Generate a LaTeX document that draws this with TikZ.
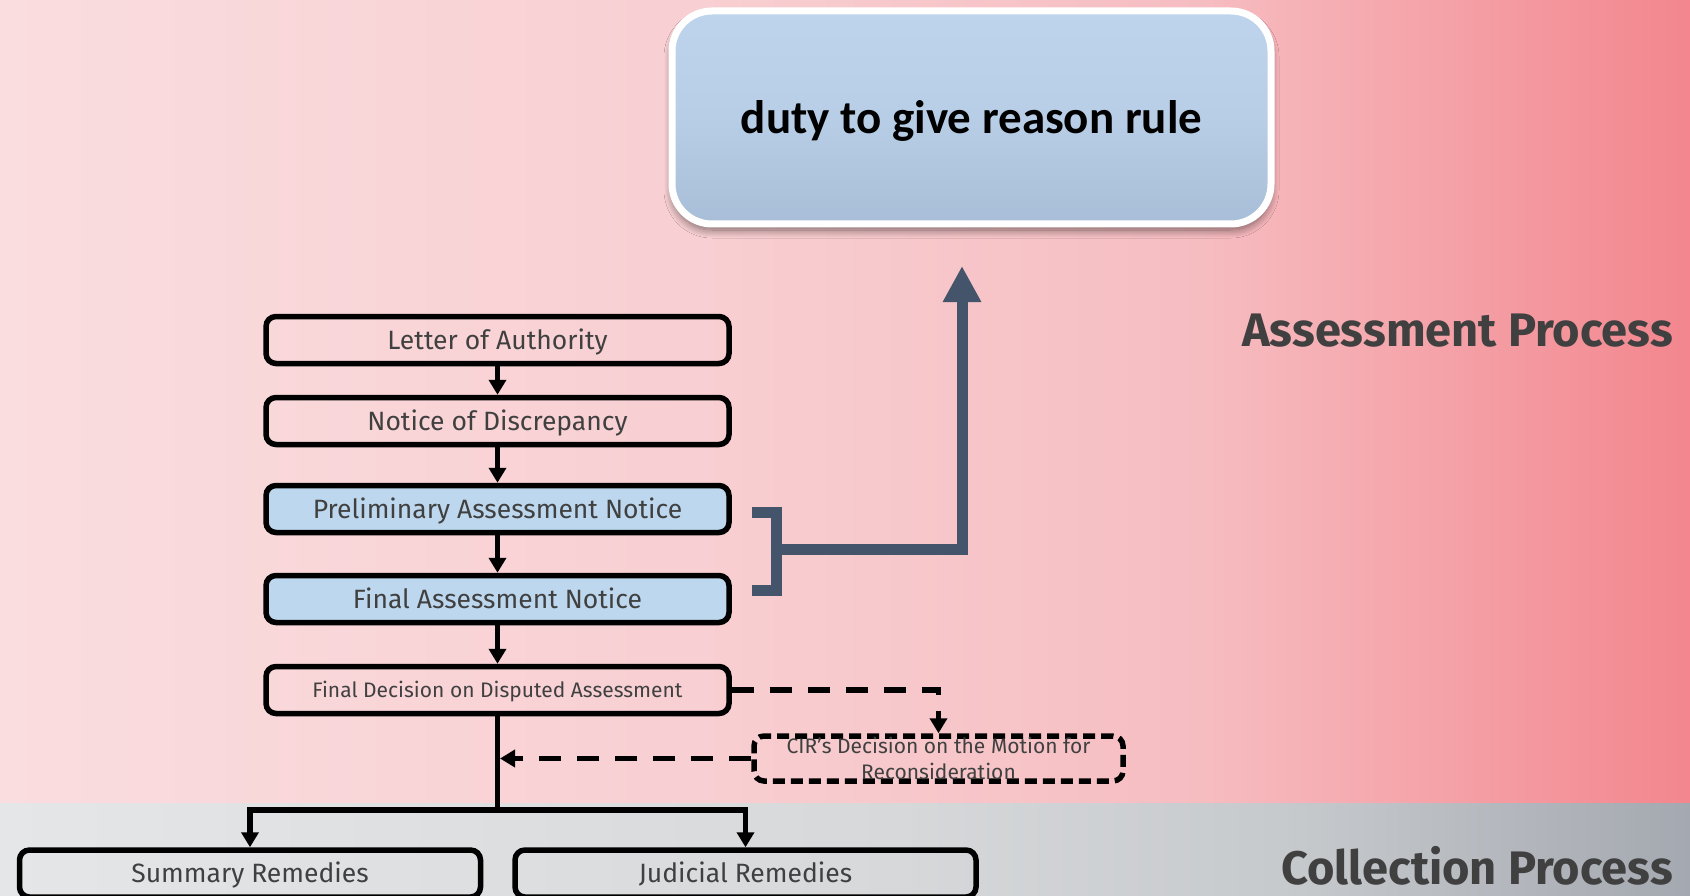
\documentclass[tikz,border=0pt]{standalone}
\usepackage{fontspec}
\setmainfont{Fira Sans}
\newfontfamily\reasonfont{Carlito}
\usetikzlibrary{arrows.meta,shadows.blur,calc}

\definecolor{txtgray}{HTML}{404040}
\definecolor{slate}{HTML}{44546A}
\definecolor{stepblue}{HTML}{BDD7EE}
\definecolor{pinkA}{HTML}{FADDDF}
\definecolor{pinkB}{HTML}{F8CFD2}
\definecolor{pinkC}{HTML}{F6BDC1}
\definecolor{pinkD}{HTML}{F3868E}
\definecolor{grayA}{HTML}{E5E6E7}
\definecolor{grayB}{HTML}{D6D8DA}
\definecolor{grayC}{HTML}{C6C9CC}
\definecolor{grayD}{HTML}{A4A8B0}
\definecolor{reasonTop}{HTML}{BDD4EC}
\definecolor{reasonMid}{HTML}{B8CEE6}
\definecolor{reasonBot}{HTML}{A8BED8}

\begin{document}
\begin{tikzpicture}[x=1pt,y=-1pt,
  stepbox/.style={draw=black, line width=5.5pt, rounded corners=10pt,
    minimum width=463pt, minimum height=47pt, inner sep=0pt, text=txtgray,
    text height=18.3pt, text depth=0pt,
    font=\fontsize{26.5}{30}\selectfont},
  bluestep/.style={stepbox, fill=stepblue},
  smallstep/.style={stepbox, text height=14.5pt,
    font=\fontsize{21}{25}\selectfont},
  cirbox/.style={draw=black, line width=5.5pt, rounded corners=10pt,
    dash pattern=on 12pt off 6pt, minimum width=369pt, minimum height=45pt,
    inner sep=0pt, text=txtgray, align=center,
    font=\fontsize{21}{26}\selectfont},
  remedybox/.style={stepbox, minimum width=461pt},
  reasonbox/.style={draw=white, line width=7pt, rounded corners=40pt,
    minimum width=599pt, minimum height=213pt, inner sep=0pt, text depth=0pt,
    top color=reasonTop, bottom color=reasonBot, middle color=reasonMid,
    blur shadow={shadow xshift=0pt, shadow yshift=-6pt,
      shadow blur radius=8pt, shadow blur steps=14, shadow opacity=50},
    font=\reasonfont\bfseries\fontsize{47}{56}\selectfont},
  flow/.style={line width=5.5pt, -{Triangle[length=15pt,width=17pt]}},
  flowline/.style={line width=5.5pt},
  dashflow/.style={line width=5.5pt, dash pattern=on 22pt off 16pt,
    -{Triangle[length=15pt,width=17pt]}},
  bracket/.style={draw=slate, line width=11pt, line join=miter},
  phase/.style={text=txtgray, inner sep=0pt, anchor=east,
    text height=32.4pt, text depth=0pt,
    font=\bfseries\fontsize{47}{56}\selectfont}
]
\useasboundingbox (0,0) rectangle (1690,896);

% background bands
\shade[left color=pinkA, right color=pinkB] (0,0) rectangle (701,803);
\shade[left color=pinkB, right color=pinkC] (700,0) rectangle (1201,803);
\shade[left color=pinkC, right color=pinkD] (1200,0) rectangle (1690,803);
\shade[left color=grayA, right color=grayB] (0,803) rectangle (901,896);
\shade[left color=grayB, right color=grayC] (900,803) rectangle (1301,896);
\shade[left color=grayC, right color=grayD] (1300,803) rectangle (1690,896);

% headline box
\node[reasonbox] (reason) at (971.5,117.5) {duty to give reason rule};

% phase labels
\node[phase] (assess) at (1673,330) {Assessment Process};
\node[phase] (collect) at (1673,868) {Collection Process};

% assessment steps
\node[stepbox]   (loa) at (497.5,340) {Letter of Authority};
\node[stepbox]   (nod) at (497.5,421) {Notice of Discrepancy};
\node[bluestep]  (pan) at (497.5,509) {Preliminary Assessment Notice};
\node[bluestep]  (fan) at (497.5,599) {Final Assessment Notice};
\node[smallstep] (fdda) at (497.5,690) {Final Decision on Disputed Assessment};
\node[cirbox]    (cir) at (938.5,758.5) {CIR’s Decision on the Motion for\\Reconsideration};

% collection remedies
\node[remedybox] (sum) at (250,873.5) {Summary Remedies};
\node[remedybox] (jud) at (745.5,873.5) {Judicial Remedies};

% main flow
\draw[flow] (loa) -- (nod);
\draw[flow] (nod) -- (pan);
\draw[flow] (pan) -- (fan);
\draw[flow] (fan) -- (fdda);
\coordinate (split) at (497.5,810);
\draw[flowline] (fdda.south) -- (split);
\draw[flow] (split) -| (sum.north);
\draw[flow] (split) -| (jud.north);

% motion for reconsideration loop
\draw[dashflow] (fdda.east) -| (cir.north);
\draw[dashflow, shorten >=2.5pt] (cir.west) -- (cir.west -| split);

% bracket pointing to the headline
\coordinate (brtop) at (752,512);
\coordinate (brbot) at (752,590);
\coordinate (brmid) at (776,549);
\coordinate (reasontip) at (962,266);
\draw[bracket] (brtop) -- ++(24,0) |- (brbot);
\draw[bracket, -{Triangle[length=36pt,width=36pt]}] (brmid) -| (reasontip);
\end{tikzpicture}
\end{document}
